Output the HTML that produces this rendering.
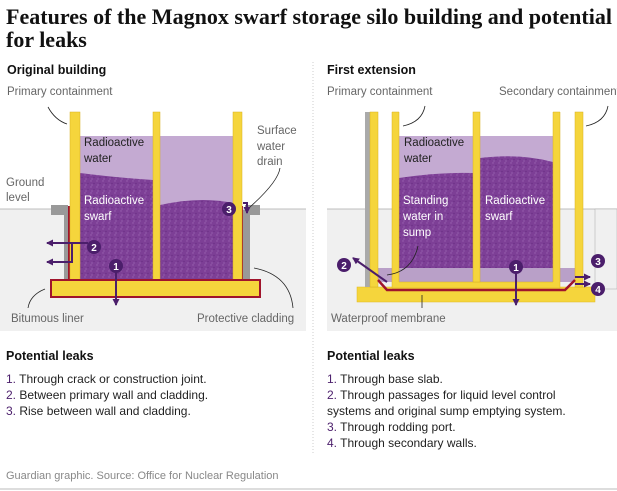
<!DOCTYPE html>
<html><head><meta charset="utf-8"><style>
html,body{margin:0;padding:0;background:#fff;}
svg{display:block;}
.s{font-family:"Liberation Sans",sans-serif;}
</style></head><body>
<svg width="617" height="491" viewBox="0 0 617 491" xmlns="http://www.w3.org/2000/svg">
<defs>
<pattern id="sw" width="6" height="6" patternUnits="userSpaceOnUse">
<rect width="6" height="6" fill="#7d3f96"/>
<circle cx="1" cy="1" r="0.7" fill="#9a62b0"/><circle cx="4" cy="3.5" r="0.7" fill="#6a2f84"/><circle cx="2" cy="5" r="0.6" fill="#a070b8"/>
</pattern>
<marker id="ah" markerUnits="userSpaceOnUse" markerWidth="7" markerHeight="7" refX="6" refY="3.5" orient="auto"><path d="M0,0 L7,3.5 L0,7z" fill="#4b1e6b"/></marker>
</defs>
<g font-family="Liberation Serif,serif" font-weight="bold" font-size="22" fill="#111">
<text x="6" y="24" textLength="606" lengthAdjust="spacingAndGlyphs">Features of the Magnox swarf storage silo building and potential</text>
<text x="6" y="47">for leaks</text>
</g>
<line x1="313" y1="62" x2="313" y2="455" stroke="#ccc" stroke-dasharray="1,2"/>
<g class="s" font-size="12.5" fill="#111" font-weight="bold">
<text x="7" y="74">Original building</text>
<text x="327" y="74">First extension</text>
</g>
<!-- LEFT PANEL -->
<rect x="0" y="209" width="306" height="122" fill="#f0f0f0"/>
<line x1="0" y1="209" x2="306" y2="209" stroke="#aaa" stroke-width="0.7"/>
<rect x="80" y="136" width="153" height="146" fill="#c4aad2"/>
<path d="M80,173 Q120,178 153,180 L153,282 L80,282z" fill="url(#sw)"/>
<path d="M160,205 Q200,196 233,203 L233,282 L160,282z" fill="url(#sw)"/>
<rect x="64" y="210" width="6" height="70" fill="#999"/>
<rect x="51" y="205" width="17" height="10" fill="#999"/>
<rect x="243" y="210" width="7" height="70" fill="#999"/>
<rect x="245" y="205" width="15" height="10" fill="#999"/>
<rect x="68" y="206" width="2" height="74" fill="#a0142c"/>
<rect x="241" y="206" width="2" height="74" fill="#a0142c"/>
<rect x="70" y="112" width="10" height="170" fill="#f5d53c" stroke="#d8b020" stroke-width="0.5"/>
<rect x="153" y="112" width="7" height="170" fill="#f5d53c" stroke="#d8b020" stroke-width="0.5"/>
<rect x="233" y="112" width="9" height="170" fill="#f5d53c" stroke="#d8b020" stroke-width="0.5"/>
<rect x="51" y="280" width="209" height="17" fill="#f5d53c" stroke="#a0142c" stroke-width="2"/>
<g stroke="#4b1e6b" stroke-width="2" fill="none">
<line x1="116" y1="272" x2="116" y2="305" marker-end="url(#ah)"/>
<path d="M88,243 L47,243" marker-end="url(#ah)"/>
<path d="M72,243 L72,262 L47,262" marker-end="url(#ah)"/>
<path d="M243,203 L247,203 L247,213" marker-end="url(#ah)"/>
</g>
<g fill="#4b1e6b"><circle cx="116" cy="266" r="7"/><circle cx="94" cy="247" r="7"/><circle cx="229" cy="209" r="7"/></g>
<g class="s" font-size="10" font-weight="bold" fill="#fff" text-anchor="middle"><text x="116" y="270">1</text><text x="94" y="251">2</text><text x="229" y="213">3</text></g>
<g fill="none" stroke="#222" stroke-width="0.8">
<path d="M48,107 Q55,120 67,124"/><path d="M280,168 Q278,182 250,207"/>
<path d="M45,289 Q30,295 28,308"/><path d="M254,268 Q290,275 293,308"/>
</g>
<g class="s" font-size="11.5" fill="#666">
<text x="7" y="95">Primary containment</text>
<text x="6" y="186">Ground</text><text x="6" y="201">level</text>
<text x="257" y="134">Surface</text><text x="257" y="150">water</text><text x="257" y="165">drain</text>
<text x="11" y="322">Bitumous liner</text>
<text x="197" y="322">Protective cladding</text>
</g>
<g class="s" font-size="11.5" fill="#222"><text x="84" y="146">Radioactive</text><text x="84" y="162">water</text></g>
<g class="s" font-size="11.5" fill="#fff"><text x="84" y="204">Radioactive</text><text x="84" y="220">swarf</text></g>

<!-- RIGHT PANEL -->
<rect x="327" y="209" width="290" height="122" fill="#f0f0f0"/>
<line x1="327" y1="209" x2="617" y2="209" stroke="#aaa" stroke-width="0.7"/>
<rect x="595" y="209" width="22" height="80" fill="#f0f0f0" stroke="#aaa" stroke-width="0.5"/>
<rect x="399" y="136" width="154" height="146" fill="#c4aad2"/>
<path d="M399,178 Q440,172 473,173 L473,282 L399,282z" fill="url(#sw)"/>
<path d="M480,158 Q520,153 553,162 L553,282 L480,282z" fill="url(#sw)"/>
<rect x="357" y="287" width="238" height="15" fill="#f5d53c" stroke="#e0b820" stroke-width="0.5"/>
<rect x="378" y="268" width="175" height="14" fill="#b9a0c8"/>
<rect x="560" y="268" width="15" height="14" fill="#b9a0c8"/>
<rect x="365" y="112" width="5" height="175" fill="#aaa"/>
<rect x="370" y="112" width="8" height="175" fill="#f5d53c" stroke="#d8b020" stroke-width="0.5"/>
<rect x="575" y="112" width="8" height="175" fill="#f5d53c" stroke="#d8b020" stroke-width="0.5"/>
<path d="M378,280 L387,290 L565,290 L575,280" fill="none" stroke="#a0142c" stroke-width="2.5"/>
<path d="M392,112 L399,112 L399,282 L553,282 L553,112 L560,112 L560,288 L392,288z" fill="#f5d53c" stroke="#d8b020" stroke-width="0.5"/>
<rect x="473" y="112" width="7" height="170" fill="#f5d53c" stroke="#d8b020" stroke-width="0.5"/>
<g stroke="#4b1e6b" stroke-width="2" fill="none">
<line x1="516" y1="273" x2="516" y2="305" marker-end="url(#ah)"/>
<path d="M387,282 L353,258" marker-end="url(#ah)"/>
<path d="M575,277 L590,277" marker-end="url(#ah)"/>
<path d="M575,284 L590,284" marker-end="url(#ah)"/>
</g>
<g fill="#4b1e6b"><circle cx="516" cy="267" r="7"/><circle cx="344" cy="265" r="7"/><circle cx="598" cy="261" r="7"/><circle cx="598" cy="289" r="7"/></g>
<g class="s" font-size="10" font-weight="bold" fill="#fff" text-anchor="middle"><text x="516" y="271">1</text><text x="344" y="269">2</text><text x="598" y="265">3</text><text x="598" y="293">4</text></g>
<g fill="none" stroke="#222" stroke-width="0.8">
<path d="M425,106 Q422,122 403,126"/><path d="M608,106 Q605,122 586,126"/>
<path d="M418,246 Q412,272 387,275"/><path d="M422,295 L422,308"/>
</g>
<g class="s" font-size="11.5" fill="#666">
<text x="327" y="95">Primary containment</text>
<text x="499" y="95">Secondary containment</text>
<text x="331" y="322">Waterproof membrane</text>
</g>
<g class="s" font-size="11.5" fill="#222"><text x="404" y="146">Radioactive</text><text x="404" y="162">water</text></g>
<g class="s" font-size="11.5" fill="#fff"><text x="403" y="204">Standing</text><text x="403" y="220">water in</text><text x="403" y="236">sump</text>
<text x="485" y="204">Radioactive</text><text x="485" y="220">swarf</text></g>

<!-- TEXT BOTTOM -->
<g class="s" font-size="12.5" font-weight="bold" fill="#111"><text x="6" y="360">Potential leaks</text><text x="327" y="360">Potential leaks</text></g>
<g class="s" font-size="12" fill="#222">
<text x="6" y="383"><tspan fill="#4b1e6b">1.</tspan> Through crack or construction joint.</text>
<text x="6" y="399"><tspan fill="#4b1e6b">2.</tspan> Between primary wall and cladding.</text>
<text x="6" y="415"><tspan fill="#4b1e6b">3.</tspan> Rise between wall and cladding.</text>
<text x="327" y="383"><tspan fill="#4b1e6b">1.</tspan> Through base slab.</text>
<text x="327" y="399"><tspan fill="#4b1e6b">2.</tspan> Through passages for liquid level control</text>
<text x="327" y="415">systems and original sump emptying system.</text>
<text x="327" y="431"><tspan fill="#4b1e6b">3.</tspan> Through rodding port.</text>
<text x="327" y="447"><tspan fill="#4b1e6b">4.</tspan> Through secondary walls.</text>
</g>
<text class="s" x="6" y="479" font-size="11" fill="#888">Guardian graphic. Source: Office for Nuclear Regulation</text>
<line x1="0" y1="489" x2="617" y2="489" stroke="#ddd" stroke-width="2"/>
</svg>
</body></html>
